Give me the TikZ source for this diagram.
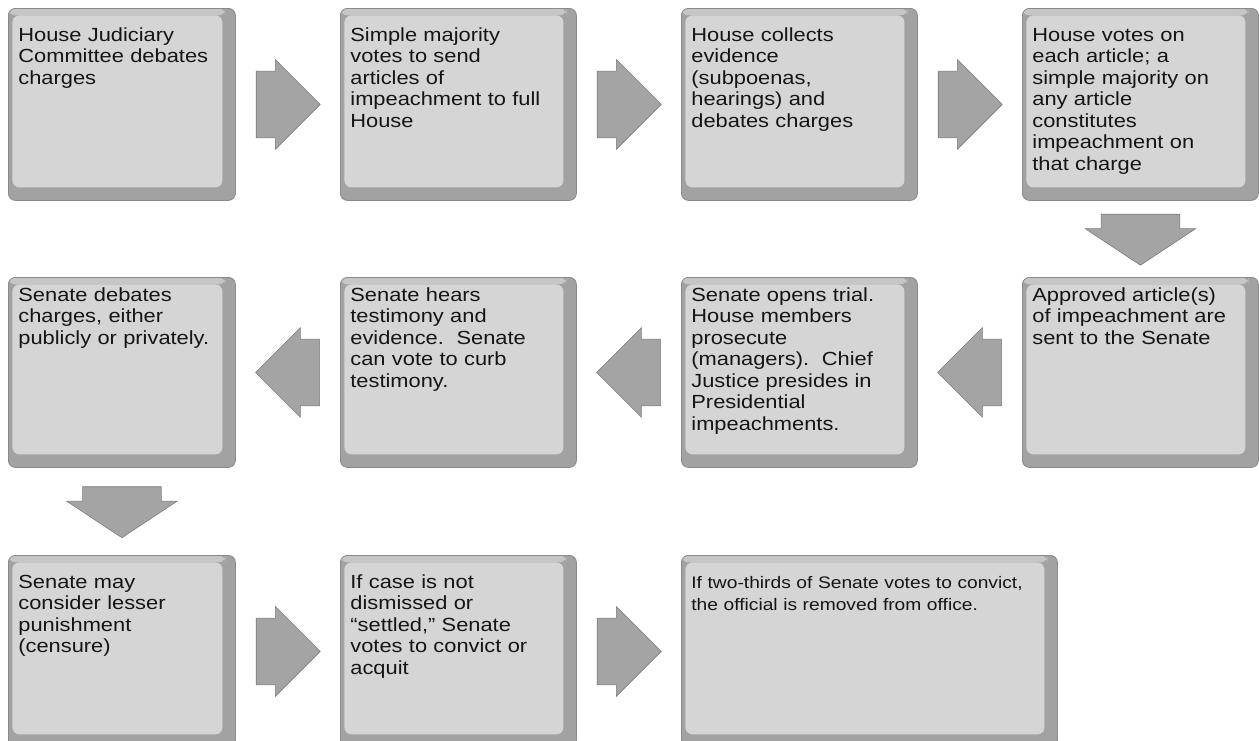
\documentclass[tikz,border=0pt]{standalone}
\usepackage{fontspec}
\setmainfont{Liberation Sans}[FakeStretch=1.15,WordSpace=0.75]
\usetikzlibrary{shapes.arrows,calc}

\definecolor{frame}{HTML}{A2A2A2}
\definecolor{frameline}{HTML}{8A8A8A}
\definecolor{facetop}{HTML}{C6C6C6}
\definecolor{face}{HTML}{D5D5D5}
\definecolor{flowfill}{HTML}{A4A4A4}
\definecolor{flowline}{HTML}{7C7C7C}
\definecolor{ink}{HTML}{151515}

\begin{document}
\begin{tikzpicture}[
x=1pt,
y=-1pt,
stage/.style={
  rectangle,
  rounded corners=7pt,
  anchor=north west,
  fill=frame,
  draw=frameline,
  line width=0.8pt,
  text=ink,
  text width=216pt,
  align=left,
  inner xsep=10pt,
  inner ysep=19pt,
  text height=14pt,
  text depth=140pt,
  font=\fontsize{19}{21.5}\selectfont,
  path picture={
    \fill[facetop] (path picture bounding box.north west)
      rectangle ([xshift=-10pt,yshift=-7pt]path picture bounding box.north east);
    \fill[face] ([shift={(4pt,-7pt)}]path picture bounding box.north west)
      rectangle ([shift={(-13pt,13pt)}]path picture bounding box.south east);
    }
  },
first/.style={
  text width=207pt
  },
low/.style={
  inner ysep=10pt,
  text depth=156pt
  },
flow/.style={
  single arrow,
  anchor=tail,
  fill=flowfill,
  draw=flowline,
  line width=0.6pt,
  inner xsep=0pt,
  inner ysep=33pt,
  minimum height=64pt,
  single arrow head extend=11.5pt
  },
back/.style={
  flow,
  rotate=180
  },
drop/.style={
  flow,
  rotate=-90,
  inner ysep=39pt,
  minimum height=51pt,
  single arrow head extend=16pt,
  single arrow tip angle=113
  }
]
\useasboundingbox (0,0) rectangle (1259,740);
\fill[white] (0,0) rectangle (1259,740);
\clip (0,0) rectangle (1259,740);

% House
\node[stage,first] (judiciary) at (8,8) {House Judiciary\\Committee debates\\charges};
\node[stage] (majority) at (340,8) {Simple majority\\votes to send\\articles of\\impeachment to full\\House};
\node[stage] (evidence) at (681,8) {House collects\\evidence\\(subpoenas,\\hearings) and\\debates charges};
\node[stage] (housevote) at (1022,8) {House votes on\\each article; a\\simple majority on\\any article\\constitutes\\impeachment on\\that charge};

% Senate
\node[stage,low] (sent) at (1022,277) {Approved article(s)\\of impeachment are\\sent to the Senate};
\node[stage,low] (trial) at (681,277) {Senate opens trial.\\House members\\prosecute\\(managers).\ \ Chief\\Justice presides in\\Presidential\\impeachments.};
\node[stage,low] (testimony) at (340,277) {Senate hears\\testimony and\\evidence.\ \ Senate\\can vote to curb\\testimony.};
\node[stage,low,first] (debate) at (8,277) {Senate debates\\charges, either\\publicly or privately.};

% outcome
\node[stage,first] (censure) at (8,555) {Senate may\\consider lesser\\punishment\\(censure)};
\node[stage] (convict) at (340,555) {If case is not\\dismissed or\\“settled,” Senate\\votes to convict or\\acquit};
\node[stage,text width=356pt,font=\fontsize{16.7}{22}\selectfont] (removal) at (681,555) {If two-thirds of Senate votes to convict,\\the official is removed from office.};

\node[flow] (f1) at ($(judiciary.east)!0.5!(majority.west)+(-32,0)$) {};
\node[flow] (f2) at ($(majority.east)!0.5!(evidence.west)+(-32,0)$) {};
\node[flow] (f3) at ($(evidence.east)!0.5!(housevote.west)+(-32,0)$) {};
\node[drop] (d1) at ($(housevote.south)!0.5!(sent.north)+(0,-25)$) {};
\node[back] (f4) at ($(sent.west)!0.5!(trial.east)+(32,0)$) {};
\node[back] (f5) at ($(trial.west)!0.5!(testimony.east)+(32,0)$) {};
\node[back] (f6) at ($(testimony.west)!0.5!(debate.east)+(32,0)$) {};
\node[drop] (d2) at ($(debate.south)!0.5!(censure.north)+(0,-25)$) {};
\node[flow] (f7) at ($(censure.east)!0.5!(convict.west)+(-32,0)$) {};
\node[flow] (f8) at ($(convict.east)!0.5!(removal.west)+(-32,0)$) {};
\end{tikzpicture}
\end{document}
